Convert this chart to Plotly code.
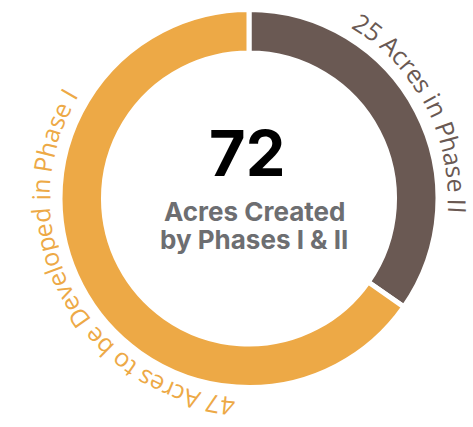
import math
import plotly.graph_objects as go

# ---- data ----
slice_labels = ["25 Acres in Phase II", "47 Acres to be Developed in Phase I"]
slice_values = [25, 47]
slice_colors = ["#6A5953", "#EDA946"]
center_value = "72"
center_lines = ["Acres Created", "by Phases I & II"]

# ---- geometry (pixels) ----
W, H = 473, 427
CX, CY = 249.0, 198.5
R_PIE = 189.0          # pie radius (stroke eats half the line width)
HOLE = 0.77
LINE_W = 5

FS = 25                # curved label font size
R_TXT = 209.0          # radius of glyph centres
R_ADV = 203.0          # radius used for advance along arc

# approximate Open Sans advance widths (em)
WID = {' ': .26, 'A': .633, 'P': .603, 'D': .716, 'I': .297, 'a': .556, 'b': .613,
       'c': .476, 'd': .613, 'e': .561, 'h': .614, 'i': .253, 'l': .253, 'n': .614,
       'o': .604, 'p': .613, 'r': .408, 's': .477, 't': .353, 'v': .502,
       '2': .572, '4': .572, '5': .572, '7': .572}

def px(x, y):
    return x / W, 1 - y / H

fig = go.Figure()
fig.add_trace(go.Pie(
    values=slice_values, labels=slice_labels, sort=False, direction="clockwise",
    rotation=0, hole=HOLE, textinfo="none", hoverinfo="label+value",
    marker=dict(colors=slice_colors, line=dict(color="white", width=LINE_W)),
    domain=dict(x=[(CX - R_PIE) / W, (CX + R_PIE) / W],
                y=[1 - (CY + R_PIE) / H, 1 - (CY - R_PIE) / H]),
    showlegend=False,
))

annotations = []
total = sum(slice_values)
cum = 0
for lab, val, col in zip(slice_labels, slice_values, slice_colors):
    mid = (cum + val / 2) / total * 360
    cum += val
    ws = [WID.get(ch, .55) for ch in lab]
    deg_per_em = FS / R_ADV * 180 / math.pi
    start = mid - sum(ws) * deg_per_em / 2
    acc = 0
    for ch, w in zip(lab, ws):
        th = start + (acc + w / 2) * deg_per_em
        acc += w
        if ch == ' ':
            continue
        r = math.radians(th)
        x, y = px(CX + R_TXT * math.sin(r), CY - R_TXT * math.cos(r))
        ang = th if th <= 180 else th - 360
        annotations.append(dict(
            x=x, y=y, xref="paper", yref="paper", text=ch, showarrow=False,
            xanchor="center", yanchor="middle", textangle=ang, height=26,
            font=dict(family="Open Sans", size=FS, color=col, weight=400)))

x0, y0 = px(247, 153)
annotations.append(dict(x=x0, y=y0, xref="paper", yref="paper", text=center_value,
                        showarrow=False, xanchor="center", yanchor="middle",
                        font=dict(family="Inter", size=63, color="#000000", weight=700)))
for i, line in enumerate(center_lines):
    xx, yy = px(254, 211 + 29 * i)
    annotations.append(dict(x=xx, y=yy, xref="paper", yref="paper", text=line,
                            showarrow=False, xanchor="center", yanchor="middle",
                            font=dict(family="Inter", size=26, color="#6D6E71", weight=700)))

fig.update_layout(
    width=W, height=H, margin=dict(l=0, r=0, t=0, b=0),
    paper_bgcolor="white", plot_bgcolor="white",
    annotations=annotations,
)
fig.write_html("out.html", config={"displayModeBar": False},
               post_script="document.body.style.margin='0px';")
